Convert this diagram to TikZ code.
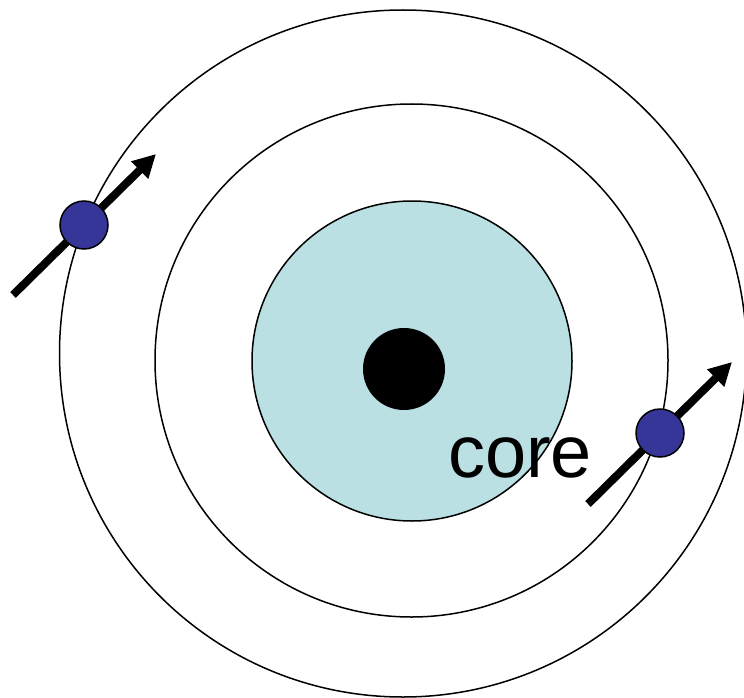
\documentclass[tikz,border=0pt]{standalone}
\usepackage{fontspec}
\setmainfont{Liberation Sans}
\usetikzlibrary{arrows.meta}
\definecolor{corefill}{HTML}{BAE0E3}
\definecolor{electron}{HTML}{363699}
\tikzset{
  orbit/.style={circle, draw=black, line width=1.5pt, inner sep=0pt, minimum size=#1},
  spinarrow/.style={line width=8pt, -{Triangle[length=23pt,width=23pt]}},
  electronball/.style={circle, draw=black, line width=1.5pt, fill=electron, inner sep=0pt, minimum size=48pt}
}
\begin{document}
\begin{tikzpicture}[x=1pt,y=-1pt]
\useasboundingbox (0,0) rectangle (744,698);
\node[orbit=687pt] (outer) at (403,353.5) {};
\node[orbit=513pt] (middle) at (411.5,360.5) {};
\node[orbit=320pt, fill=corefill] (core) at (412,361) {};
\node[circle, fill=black, inner sep=0pt, minimum size=82pt] (nucleus) at (404,369) {};
\node[anchor=base, font=\fontsize{74pt}{80pt}\selectfont, inner sep=0pt] (label) at (520,477) {core};
\coordinate (a1s) at (13,295);
\coordinate (a1e) at (156,154);
\coordinate (a2s) at (588,504);
\coordinate (a2e) at (732,362);
\draw[spinarrow] (a1s) -- (a1e);
\draw[spinarrow] (a2s) -- (a2e);
\node[electronball] (e1) at (84,225) {};
\node[electronball] (e2) at (660,433) {};
\end{tikzpicture}
\end{document}
